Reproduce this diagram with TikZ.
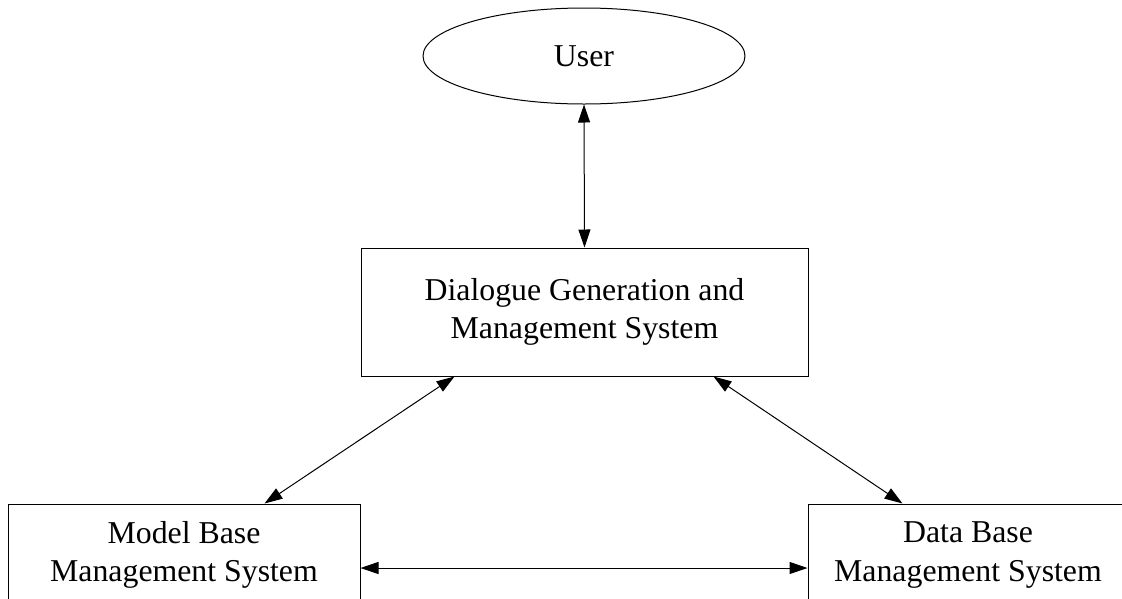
\documentclass[tikz,border=0pt]{standalone}
\usepackage{fontspec}
\setmainfont{Liberation Serif}
\usetikzlibrary{arrows.meta,shapes.geometric,calc}

\tikzset{
  every node/.style={font=\fontsize{31.8}{38.5}\selectfont},
  blockbox/.style={draw, line width=1pt, rectangle, align=center, inner sep=0pt},
  userell/.style={draw, line width=1pt, ellipse, inner sep=0pt},
  link/.style={line width=1pt, {Triangle[length=18pt,width=12pt]}-{Triangle[length=18pt,width=12pt]}}
}

\begin{document}
\begin{tikzpicture}[x=1pt, y=-1pt]
  \useasboundingbox (0,0) rectangle (1122,598);
  \begin{scope}
    \clip (0,0) rectangle (1122,598);

    % user at the top
    \node[userell, minimum width=322pt, minimum height=96pt] (user) at (584,56) {User};

    % dialogue subsystem
    \node[blockbox, minimum width=447pt, minimum height=128pt] (dgms) at (584.5,312)
      {Dialogue Generation and\\Management System};

    % model and data base subsystems (running off the lower edge)
    \node[blockbox, minimum width=352pt, minimum height=102pt] (mbms) at (184,555)
      {Model Base\\Management System};
    \node[blockbox, minimum width=320pt, minimum height=102pt] (dbms) at (968,555)
      {Data Base\\Management System};

    % connectors
    \draw[link] (user.south) -- (dgms.north);
    \draw[link] ($(dgms.south west)+(94,0)$) -- ($(mbms.north west)+(257,0)$);
    \draw[link] ($(dgms.south east)+(-95,0)$) -- ($(dbms.north west)+(95,0)$);
    \draw[link] (mbms.east |- 0,568) -- (dbms.west |- 0,568);
  \end{scope}
\end{tikzpicture}
\end{document}
